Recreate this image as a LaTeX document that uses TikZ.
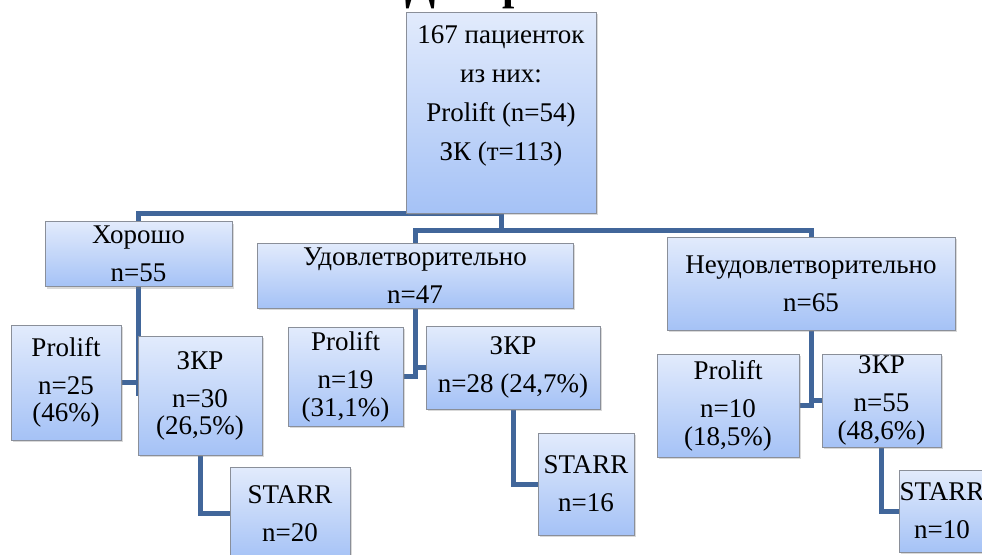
\documentclass[tikz,border=0pt]{standalone}
\usepackage{fontspec}
\setmainfont{Liberation Serif}
\usetikzlibrary{shadows,backgrounds}

\definecolor{boxtop}{HTML}{E2EBFC}
\definecolor{boxbot}{HTML}{A5C2F6}
\definecolor{boxline}{HTML}{8A8F99}
\definecolor{linkblue}{HTML}{41669A}

\tikzset{
  block/.style={draw=boxline, line width=0.5pt, top color=boxtop, bottom color=boxbot,
    inner sep=0pt, align=center, font=\rmfamily\fontsize{13.5}{19}\selectfont,
    drop shadow={opacity=0.3, shadow xshift=1.2pt, shadow yshift=-1.2pt}},
  link/.style={draw=linkblue, line width=2.5pt}
}

\begin{document}
\begin{tikzpicture}[x=0.5pt,y=-0.5pt]
\useasboundingbox (0,0) rectangle (982,554);

% title, mostly cut off by the page edge
\node[anchor=base, font=\rmfamily\fontsize{22}{26}\selectfont\bfseries] (title) at (518,-1) {Диаграмма};

% top level
\node[block, minimum width=95pt, minimum height=100.5pt, font=\rmfamily\fontsize{13.5}{19.5}\selectfont] (root) at (501,112.5)
  {167 пациенток\\из них:\\Prolift (n=54)\\ЗК (т=113)\\\mbox{}};

% results
\node[block, minimum width=93.5pt, minimum height=32.5pt] (good) at (138.5,254) {Хорошо\\n=55};
\node[block, minimum width=158pt, minimum height=32.5pt] (mid) at (415,275.5) {Удовлетворительно\\n=47};
\node[block, minimum width=144pt, minimum height=46.5pt] (bad) at (811,283.5) {Неудовлетворительно\\n=65};

% good
\node[block, minimum width=55pt, minimum height=57.5pt] (pro1) at (66,382.5) {Prolift\\n=25\\[-5.5pt](46\%)};
\node[block, minimum width=62pt, minimum height=59.5pt] (zkr1) at (200,395.5) {ЗКР\\n=30\\[-5.5pt](26,5\%)};
\node[block, minimum width=60pt, minimum height=46.5pt] (starr1) at (290,513.5) {STARR\\n=20};

% satisfactory
\node[block, minimum width=57.5pt, minimum height=49.5pt] (pro2) at (345.5,376.5) {Prolift\\n=19\\[-5pt](31,1\%)};
\node[block, minimum width=87pt, minimum height=41.5pt] (zkr2) at (513,367.5) {ЗКР\\n=28 (24,7\%)};
\node[block, minimum width=48pt, minimum height=51pt] (starr2) at (586,484) {STARR\\n=16};

% unsatisfactory
\node[block, minimum width=71pt, minimum height=51.5pt] (pro3) at (728,405.5) {Prolift\\n=10\\[-5pt](18,5\%)};
\node[block, minimum width=59.5pt, minimum height=46.5pt] (zkr3) at (881.5,400.5) {ЗКР\\n=55\\[-5pt](48,6\%)};
\node[block, minimum width=43pt, minimum height=41pt] (starr3) at (942,511) {STARR\\n=10};

\begin{scope}[on background layer]
\coordinate (hub) at (501,230);
\draw[link] (root.south) -- (hub) -| (mid.north);
\draw[link] (hub) -| (bad.north);
\draw[link] (good.north) |- (root.south);

\draw[link] (good.south) -- (good.south |- zkr1.west);
\draw[link] (pro1.east) -- (pro1.east -| good.south);
\draw[link] (zkr1.south) |- (starr1.west);

\draw[link] (mid.south) |- (pro2.east);
\draw[link] (mid.south |- zkr2.west) -- (zkr2.west);
\draw[link] (zkr2.south) |- (starr2.west);

\draw[link] (bad.south) |- (pro3.east);
\draw[link] (bad.south |- zkr3.west) -- (zkr3.west);
\draw[link] (zkr3.south) |- (starr3.west);
\end{scope}
\end{tikzpicture}
\end{document}
